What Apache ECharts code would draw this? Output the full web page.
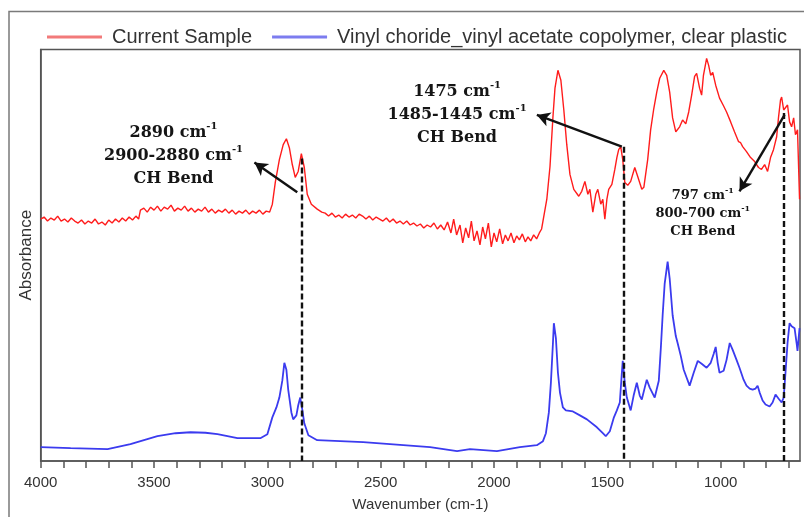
<!DOCTYPE html>
<html>
<head>
<meta charset="utf-8">
<script src="https://cdn.jsdelivr.net/npm/echarts@6/dist/echarts.min.js"></script>
<style>
html,body{margin:0;padding:0;background:#fff;}
#chart{width:804px;height:517px;}
</style>
</head>
<body>
<div id="chart"></div>
<script>
// ---- data (wavenumber cm-1, absorbance a.u.) ----
const seriesNames = ['Current Sample', 'Vinyl choride_vinyl acetate copolymer, clear plastic'];

const redSpectrum = [
[4000,2.44],[3985,2.46],[3970,2.42],[3955,2.45],[3940,2.43],[3925,2.47],[3910,2.42],[3895,2.44],[3880,2.41],[3865,2.45],
[3850,2.42],[3835,2.40],[3820,2.43],[3805,2.39],[3790,2.42],[3775,2.40],[3760,2.44],[3745,2.39],[3730,2.41],[3715,2.38],
[3700,2.43],[3685,2.40],[3670,2.44],[3655,2.41],[3640,2.45],[3625,2.42],[3610,2.46],[3595,2.43],[3580,2.47],[3568,2.44],
[3560,2.53],[3545,2.55],[3530,2.51],[3515,2.56],[3500,2.53],[3485,2.57],[3470,2.52],[3455,2.56],[3440,2.54],[3425,2.58],
[3410,2.52],[3395,2.55],[3380,2.53],[3365,2.57],[3350,2.52],[3335,2.55],[3320,2.51],[3305,2.54],[3290,2.52],[3275,2.56],
[3260,2.51],[3245,2.54],[3230,2.50],[3215,2.53],[3200,2.51],[3185,2.54],[3170,2.50],[3155,2.53],[3140,2.49],[3125,2.52],
[3110,2.50],[3095,2.53],[3080,2.49],[3065,2.52],[3050,2.50],[3035,2.53],[3020,2.49],[3005,2.52],[2990,2.51],
[2978,2.59],[2965,2.81],[2947,3.04],[2930,3.19],[2916,3.25],[2903,3.16],[2890,2.99],[2877,2.86],[2864,2.92],[2850,3.10],
[2837,2.96],[2824,2.69],[2806,2.59],[2780,2.54],[2760,2.51],[2745,2.50],
[2730,2.47],[2715,2.50],[2700,2.46],[2685,2.48],[2670,2.45],[2655,2.49],[2640,2.46],[2625,2.48],[2610,2.45],[2595,2.49],
[2580,2.47],[2565,2.44],[2550,2.47],[2535,2.43],[2520,2.46],[2505,2.44],[2490,2.42],[2475,2.45],[2460,2.41],[2445,2.44],
[2430,2.40],[2415,2.42],[2400,2.39],[2385,2.42],[2370,2.38],[2355,2.40],[2340,2.37],[2325,2.39],[2310,2.35],[2295,2.38],
[2280,2.36],[2265,2.40],[2250,2.34],[2235,2.38],[2220,2.33],[2205,2.41],[2190,2.30],[2178,2.44],[2165,2.28],[2150,2.38],
[2138,2.20],[2125,2.35],[2112,2.25],[2100,2.42],[2088,2.22],[2075,2.32],[2062,2.18],[2050,2.36],[2038,2.24],[2025,2.40],
[2012,2.16],[2000,2.30],[1988,2.21],[1975,2.34],[1962,2.19],[1950,2.28],[1938,2.22],[1925,2.30],[1912,2.20],[1900,2.27],
[1888,2.23],[1875,2.29],[1862,2.21],[1850,2.26],[1838,2.22],[1825,2.28],[1812,2.24],[1800,2.30],[1790,2.34],
[1784,2.42],[1767,2.64],[1753,2.97],[1740,3.47],[1731,3.76],[1718,3.94],[1705,3.84],[1692,3.54],[1679,3.19],[1665,2.89],
[1648,2.74],[1626,2.67],[1613,2.72],[1599,2.82],[1586,2.69],[1577,2.74],[1564,2.51],[1551,2.69],[1542,2.74],[1529,2.59],
[1520,2.64],[1511,2.44],[1502,2.64],[1494,2.74],[1480,2.79],[1467,2.94],[1458,3.06],[1450,3.14],[1441,3.17],[1432,3.04],
[1423,2.81],[1410,2.78],[1397,2.82],[1379,2.96],[1366,2.87],[1348,2.74],[1339,2.76],[1322,3.04],[1309,3.34],[1296,3.54],
[1282,3.72],[1269,3.86],[1251,3.94],[1238,3.89],[1225,3.72],[1212,3.46],[1198,3.32],[1181,3.37],[1168,3.44],[1154,3.40],
[1141,3.52],[1128,3.69],[1115,3.88],[1106,3.91],[1093,3.76],[1084,3.69],[1076,3.89],[1062,4.06],[1053,3.99],[1044,3.89],
[1035,3.92],[1022,3.79],[1005,3.66],[987,3.58],[974,3.52],[956,3.42],[939,3.32],[921,3.22],[912,3.21],[903,3.17],
[895,3.16],[886,3.12],[868,3.06],[850,3.02],[833,2.96],[820,2.94],[806,2.99],[793,2.92],[780,3.06],[767,3.14],
[753,3.27],[745,3.46],[736,3.64],[731,3.67],[722,3.54],[714,3.56],[705,3.59],[696,3.42],[687,3.37],[678,3.46],
[670,3.29],[661,3.34],[652,2.64]
];

const blueSpectrum = [
[4000,0.14],[3868,0.13],[3705,0.12],[3604,0.17],[3485,0.25],[3405,0.28],[3339,0.29],[3273,0.285],[3220,0.27],[3132,0.23],
[3031,0.23],[3000,0.27],[2978,0.44],[2960,0.54],[2947,0.64],[2934,0.81],[2925,0.99],[2916,0.92],[2908,0.72],[2894,0.49],
[2886,0.42],[2872,0.46],[2864,0.56],[2855,0.64],[2846,0.52],[2837,0.38],[2819,0.26],[2780,0.21],[2577,0.19],[2282,0.14],
[2163,0.10],[2106,0.12],[1987,0.10],[1886,0.14],[1811,0.16],[1784,0.20],[1771,0.28],[1758,0.49],[1749,0.79],[1740,1.19],
[1736,1.39],[1727,1.24],[1718,0.89],[1709,0.69],[1696,0.54],[1683,0.51],[1652,0.50],[1621,0.46],[1590,0.42],[1546,0.34],
[1520,0.28],[1507,0.25],[1489,0.30],[1471,0.44],[1458,0.51],[1445,0.59],[1436,0.89],[1432,1.01],[1423,0.79],[1414,0.64],
[1397,0.51],[1384,0.66],[1370,0.79],[1357,0.66],[1348,0.62],[1335,0.74],[1326,0.82],[1313,0.74],[1291,0.64],[1273,0.81],
[1264,1.14],[1256,1.47],[1247,1.79],[1234,2.01],[1225,1.84],[1212,1.47],[1198,1.26],[1190,1.19],[1176,1.06],[1163,0.92],
[1150,0.84],[1137,0.76],[1119,0.89],[1101,1.01],[1084,0.98],[1062,0.94],[1044,0.99],[1031,1.08],[1022,1.15],[1013,0.99],
[1005,0.89],[987,0.91],[974,1.02],[960,1.19],[947,1.12],[930,1.02],[917,0.94],[899,0.82],[886,0.76],[872,0.73],
[859,0.72],[846,0.73],[837,0.76],[828,0.69],[815,0.61],[802,0.57],[784,0.55],[771,0.59],[758,0.67],[745,0.63],
[731,0.59],[722,0.64],[714,0.89],[705,1.19],[696,1.39],[687,1.36],[674,1.34],[665,1.19],[661,1.11],[652,1.34]
];

// axis ticks / labels (cm-1)
const xTickValues = [700,800,900,1000,1100,1200,1300,1400,1500,1600,1700,1800,1900,2000,2100,2200,2300,2400,2500,2600,2700,2800,2900,3000,3100,3200,3300,3400,3500,3600,3700,3800,3900,4000];
const xLabelValues = [1000,1500,2000,2500,3000,3500,4000];

// dashed marker lines: wavenumber and top absorbance
const markerWn = [2850, 1428, 722];
const markerTop = [3.05, 3.17, 3.51];

// annotation arrows: tail -> head (wavenumber, absorbance)
const arrowTail = [[2868, 2.71], [1436, 3.17], [718, 3.49]];
const arrowHead = [[3057, 3.01], [1811, 3.49], [917, 2.72]];

// annotation text anchors (center) and contents
const annotationPos = [[3414, 3.08], [2163, 3.49], [1079, 2.49]];
const annotationPeak = ['2890', '1475', '797'];
const annotationRange = ['2900-2880', '1485-1445', '800-700'];
const annotationName = 'CH Bend';

// ---- build chart ----
const chart = echarts.init(document.getElementById('chart'), null, {renderer: 'canvas'});

const sansFont = "'Liberation Sans', Arial, sans-serif";
const serifFont = "'DejaVu Serif', 'Liberation Serif', serif";

const markLineData = [];
markerWn.forEach((w, i) => {
  markLineData.push([
    {coord: [w, markerTop[i]], symbol: 'none', lineStyle: {type: [6, 3], width: 2.4, color: '#111'}},
    {coord: [w, 0], symbol: 'none'}
  ]);
});
arrowTail.forEach((t, i) => {
  markLineData.push([
    {coord: t, symbol: 'none', lineStyle: {type: 'solid', width: 2.4, color: '#111'}},
    {coord: arrowHead[i], symbol: 'arrow', symbolSize: [11, 13]}
  ]);
});

const markPointData = annotationPos.map((p, i) => {
  const big = i < 2;
  const b = big ? 'b' : 'c';
  const s = big ? 's' : 't';
  return {
    coord: p,
    label: {
      formatter: '{' + b + '|' + annotationPeak[i] + ' cm}{' + s + '|-1}\n' +
                 '{' + b + '|' + annotationRange[i] + ' cm}{' + s + '|-1}\n' +
                 '{' + b + '|' + annotationName + '}'
    }
  };
});

const option = {
  animation: false,
  backgroundColor: '#fff',
  textStyle: {fontFamily: sansFont},
  graphic: [{
    type: 'rect',
    shape: {x: 9, y: 11.5, width: 830, height: 530},
    style: {fill: 'none', stroke: '#7a7a7a', lineWidth: 1.5},
    silent: true,
    z: -1
  }],
  legend: {
    left: 42,
    top: 22,
    itemWidth: 55,
    itemHeight: 14,
    itemGap: 20,
    textStyle: {fontSize: 20, color: '#333', fontFamily: sansFont, padding: [0, 0, 0, 5]},
    data: [
      {name: seriesNames[0], icon: 'path://M0,5.5 L55,5.5 L55,8.5 L0,8.5 Z', itemStyle: {color: '#f27a7a'}},
      {name: seriesNames[1], icon: 'path://M0,5.5 L55,5.5 L55,8.5 L0,8.5 Z', itemStyle: {color: '#7c7cef'}}
    ]
  },
  grid: {
    left: 40.7,
    right: 4,
    top: 49.5,
    bottom: 53,
    show: true,
    borderColor: '#555',
    borderWidth: 1.5,
    backgroundColor: 'transparent'
  },
  xAxis: {
    type: 'value',
    inverse: true,
    min: 650,
    max: 4000,
    name: 'Wavenumber (cm-1)',
    nameLocation: 'middle',
    nameGap: 36,
    nameTextStyle: {fontSize: 15, color: '#333', fontFamily: sansFont},
    axisLine: {show: true, lineStyle: {color: '#555', width: 1.5}},
    axisTick: {show: true, inside: false, length: 7, customValues: xTickValues, lineStyle: {color: '#555', width: 1.5}},
    axisLabel: {
      show: true, margin: 14, fontSize: 15, color: '#333', fontFamily: sansFont,
      customValues: xLabelValues,
      formatter: function (v) { return String(v); }
    },
    splitLine: {show: false}
  },
  yAxis: {
    type: 'value',
    min: 0,
    max: 4.15,
    name: 'Absorbance',
    nameLocation: 'middle',
    nameGap: 6,
    nameTextStyle: {fontSize: 17, color: '#333', fontFamily: sansFont},
    axisLine: {show: true, lineStyle: {color: '#555', width: 1.5}},
    axisTick: {show: false},
    axisLabel: {show: false},
    splitLine: {show: false}
  },
  series: [
    {
      name: seriesNames[0],
      type: 'line',
      data: redSpectrum,
      symbol: 'none',
      showSymbol: false,
      lineStyle: {color: '#ff1c1c', width: 1.4},
      itemStyle: {color: '#ff1c1c'},
      z: 3,
      silent: true
    },
    {
      name: seriesNames[1],
      type: 'line',
      data: blueSpectrum,
      symbol: 'none',
      showSymbol: false,
      lineStyle: {color: '#3b3bef', width: 1.8},
      itemStyle: {color: '#3b3bef'},
      z: 3,
      silent: true,
      markLine: {
        silent: true,
        animation: false,
        symbol: ['none', 'none'],
        label: {show: false},
        emphasis: {disabled: true},
        data: markLineData
      },
      markPoint: {
        silent: true,
        symbol: 'rect',
        symbolSize: 1,
        itemStyle: {color: 'rgba(0,0,0,0)'},
        label: {
          show: true,
          position: 'inside',
          align: 'center',
          verticalAlign: 'middle',
          rich: {
            b: {fontFamily: serifFont, fontWeight: 'bold', fontSize: 16, lineHeight: 23, color: '#151515'},
            s: {fontFamily: serifFont, fontWeight: 'bold', fontSize: 10, verticalAlign: 'top', color: '#151515'},
            c: {fontFamily: serifFont, fontWeight: 'bold', fontSize: 13, lineHeight: 18, color: '#151515'},
            t: {fontFamily: serifFont, fontWeight: 'bold', fontSize: 8, verticalAlign: 'top', color: '#151515'}
          }
        },
        data: markPointData
      }
    }
  ]
};

chart.setOption(option);
</script>
</body>
</html>
